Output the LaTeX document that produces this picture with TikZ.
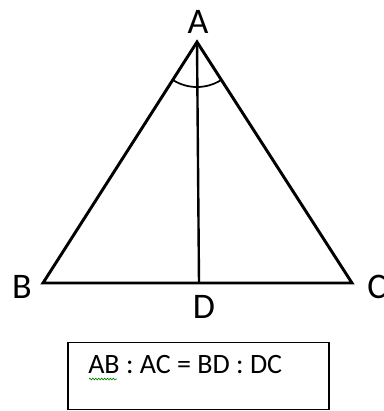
\documentclass[tikz,border=0pt]{standalone}
\usepackage{fontspec}
\setmainfont{Carlito}
\usetikzlibrary{decorations.pathmorphing}
\begin{document}
\begin{tikzpicture}[x=0.75pt,y=-0.75pt,
  edge/.style={line width=2.2pt,line join=miter},
  lbl/.style={font=\fontsize{27}{30}\selectfont,inner sep=0pt},
  frame/.style={draw,line width=1.2pt}]
\useasboundingbox (0,0) rectangle (383,411);
\coordinate (A) at (197,42);
\coordinate (B) at (43,283);
\coordinate (C) at (352,283);
\coordinate (D) at (199,283);
\draw[edge] (A) -- (B) -- (C) -- cycle;
\draw[edge,line width=1.8pt] (A) -- (D);
\draw[line width=1.3pt] (A) ++(122.3:45) arc[start angle=122.3,end angle=57.7,radius=45];
\node[lbl] (lA) at (198,22) {A};
\node[lbl] (lB) at (22,287) {B};
\node[lbl] (lC) at (377,287) {C};
\node[lbl] (lD) at (204,307) {D};
\node[frame,minimum width=261*0.75pt,minimum height=67*0.75pt,inner sep=0pt] (box) at (198.5,376) {};
\node[font=\fontsize{21}{24}\selectfont,inner sep=0pt,anchor=west] (eq) at (88,365) {AB : AC = BD : DC};
\coordinate (u1) at (89,379);
\coordinate (u2) at (117,379);
\draw[green!50!black,line width=0.5pt,decorate,decoration={snake,amplitude=0.6pt,segment length=2.2pt}] (u1) -- (u2);
\end{tikzpicture}
\end{document}
